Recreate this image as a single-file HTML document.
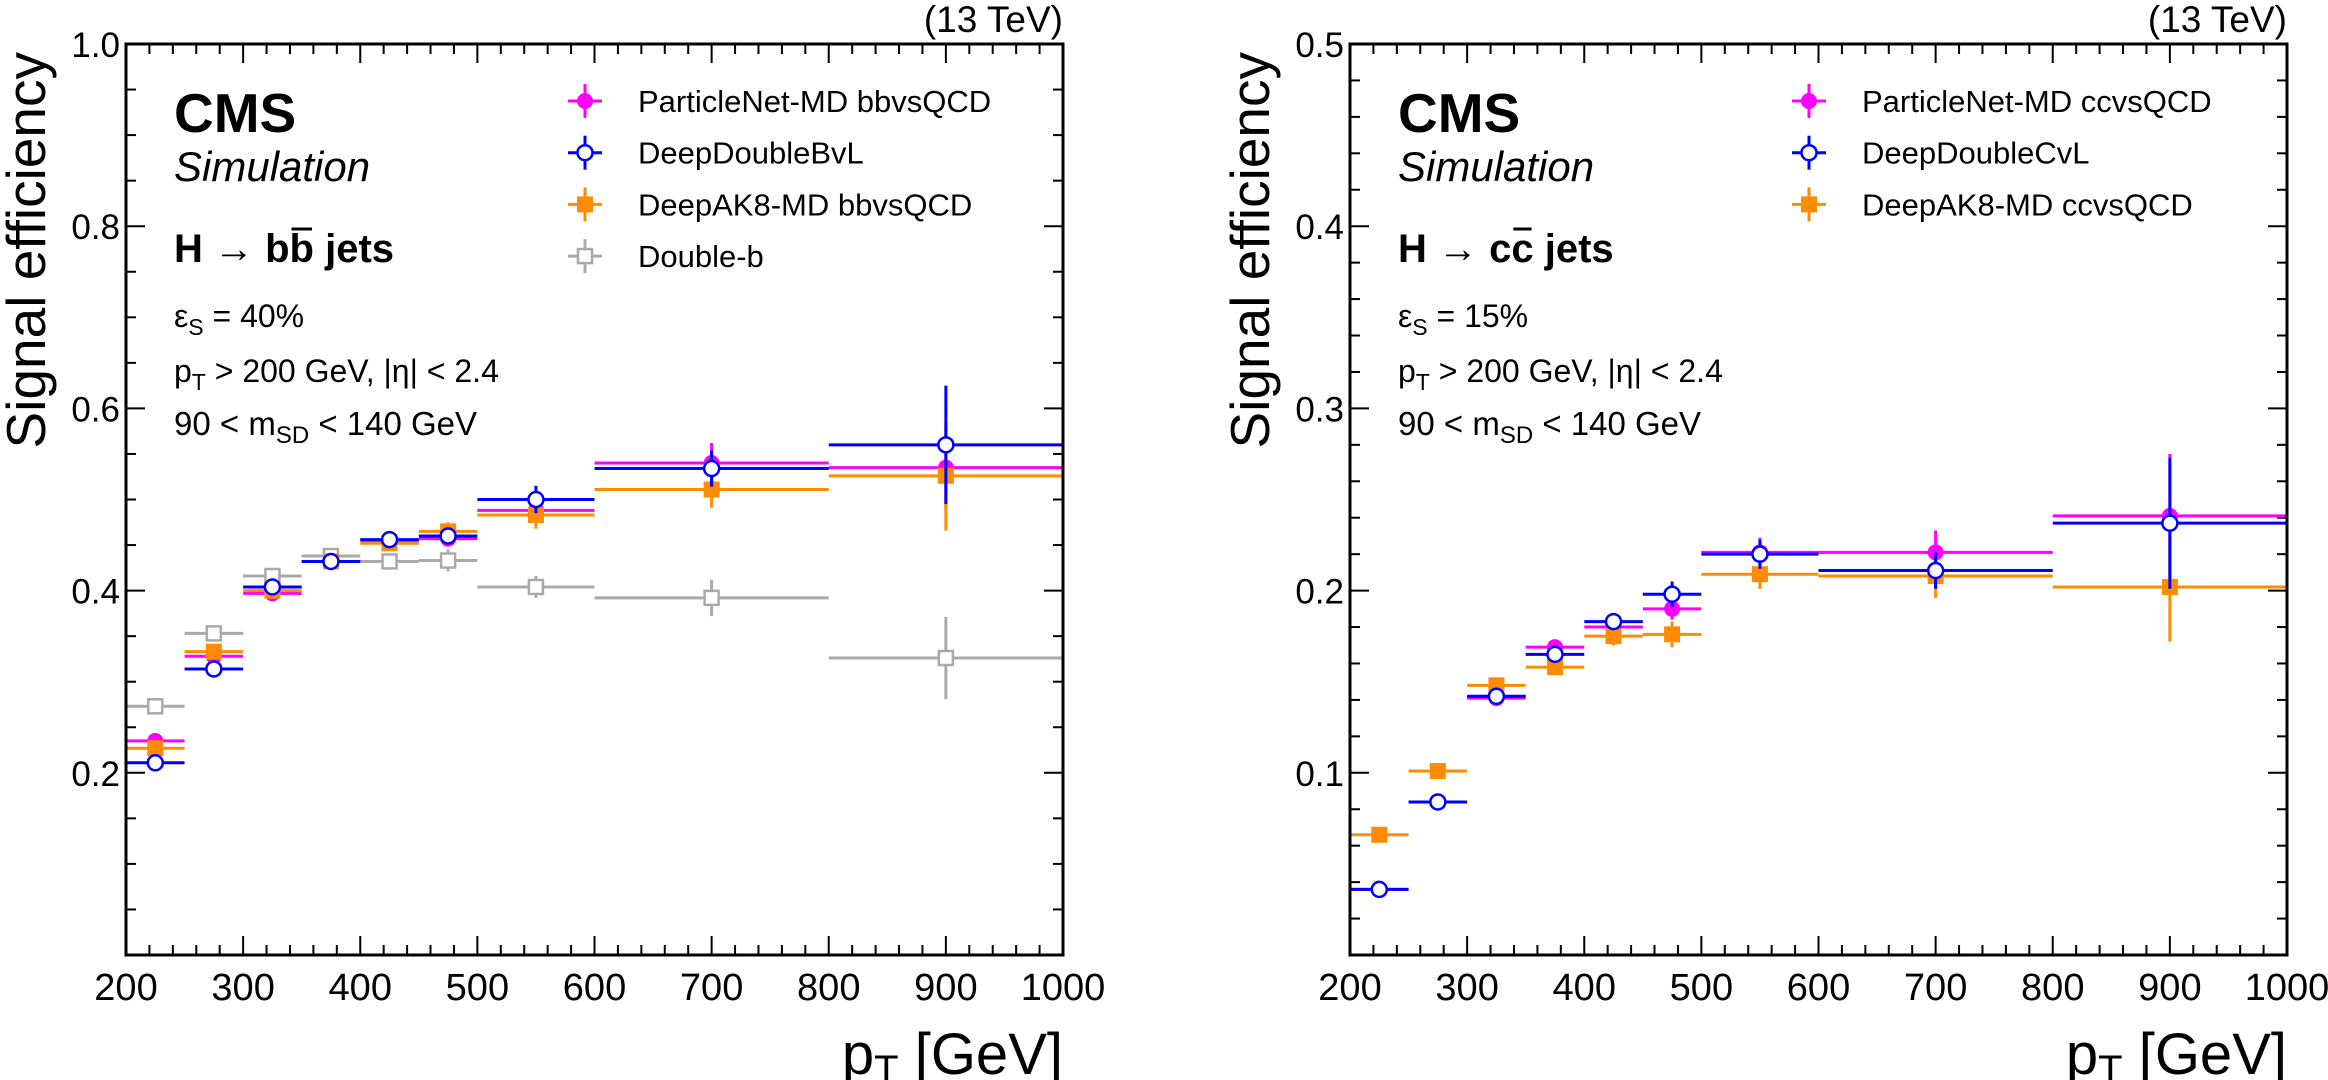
<!DOCTYPE html>
<html><head><meta charset="utf-8"><style>
html,body{margin:0;padding:0;background:#fff;}
svg{display:block;font-family:"Liberation Sans",Arial,sans-serif;}
</style></head><body>
<svg id="fig" width="2328" height="1080" viewBox="0 0 2328 1080" xmlns="http://www.w3.org/2000/svg">
<rect width="2328" height="1080" fill="#fff"/>
<g id="pL"></g>
<g id="pR"></g>
</svg>
<script>
// ---- data ----
const binLo = [200,250,300,350,400,450,500,600,800];
const binHi = [250,300,350,400,450,500,600,800,1000];
const xTicks = [200,300,400,500,600,700,800,900,1000];
const yTicksL = [0.2,0.4,0.6,0.8,1.0];
const yTickLabelsL = ["0.2","0.4","0.6","0.8","1.0"];
const yTicksR = [0.1,0.2,0.3,0.4,0.5];
const yTickLabelsR = ["0.1","0.2","0.3","0.4","0.5"];

const pnBB   = [0.235,0.328,0.397,0.432,0.455,0.457,0.488,0.540,0.535];
const pnBBe  = [0.006,0.006,0.006,0.006,0.007,0.008,0.012,0.022,0.045];
const ddbBB  = [0.211,0.314,0.404,0.432,0.456,0.460,0.500,0.534,0.560];
const ddbBBe = [0.005,0.006,0.006,0.006,0.007,0.008,0.015,0.020,0.065];
const dakBB  = [0.227,0.333,0.400,0.432,0.452,0.465,0.483,0.511,0.526];
const dakBBe = [0.006,0.006,0.006,0.006,0.008,0.010,0.015,0.020,0.060];
const dbBB   = [0.273,0.353,0.416,0.438,0.432,0.433,0.404,0.392,0.326];
const dbBBe  = [0.008,0.007,0.007,0.008,0.009,0.012,0.012,0.020,0.045];

const pnCC   = [0.036,0.084,0.141,0.169,0.180,0.190,0.221,0.221,0.241];
const pnCCe  = [0.002,0.003,0.003,0.003,0.004,0.006,0.008,0.012,0.034];
const ddcCC  = [0.036,0.084,0.142,0.165,0.183,0.198,0.220,0.211,0.237];
const ddcCCe = [0.002,0.003,0.003,0.003,0.004,0.007,0.008,0.010,0.036];
const dakCC  = [0.066,0.101,0.148,0.158,0.175,0.176,0.209,0.208,0.202];
const dakCCe = [0.004,0.003,0.003,0.004,0.005,0.007,0.008,0.012,0.030];

const NS="http://www.w3.org/2000/svg";
function mk(parent,tag,attrs,text){const e=document.createElementNS(NS,tag);for(const k in attrs)e.setAttribute(k,attrs[k]);if(text!==undefined)e.textContent=text;parent.appendChild(e);return e;}

function panel(g,x0,ymax,yt,ytl,minorStep,series,legendTx,tag){
  const x1=x0+937, yTop=44, yBot=955;
  const X=v=>x0+(v-200)/800*(x1-x0);
  const Y=v=>yBot-(v/ymax)*(yBot-yTop);
  const tk=mk(g,'g',{stroke:'#000','stroke-width':2});
  
  
  for(let v=200;v<=1000;v+=20){const maj=(v%100===0);const L=maj?19:10;const xx=X(v);
    mk(tk,'line',{x1:xx,x2:xx,y1:yBot,y2:yBot-L});mk(tk,'line',{x1:xx,x2:xx,y1:yTop,y2:yTop+L});}
  const nMin=Math.round(ymax/minorStep);
  for(let i=1;i<nMin;i++){const v=i*minorStep;const maj=yt.some(t=>Math.abs(t-v)<1e-9);const L=maj?19:10;const yy=Y(v);
    mk(tk,'line',{x1:x0,x2:x0+L,y1:yy,y2:yy});mk(tk,'line',{x1:x1,x2:x1-L,y1:yy,y2:yy});}
  xTicks.forEach(v=>{const t=mk(g,'text',{x:X(v),y:1000,'font-size':38,'text-anchor':'middle'},String(v));
    });
  yt.forEach((v,i)=>{const t=mk(g,'text',{x:x0-6,y:Y(v)+13,'font-size':35,'text-anchor':'end'},ytl[i]);
    });
  const xt=mk(g,'text',{x:x1,y:1074,'font-size':58,'text-anchor':'end'});
  
  xt.innerHTML='p<tspan font-size="40" dy="9">T</tspan><tspan dy="-9"> [GeV]</tspan>';
  const ytt=mk(g,'text',{transform:`translate(${x0-81},52) rotate(-90)`,'font-size':55,'text-anchor':'end'},'Signal efficiency');
  
  const lum=mk(g,'text',{x:x1,y:32,'font-size':37,'text-anchor':'end'},'(13 TeV)');
  
  series.forEach(s=>{
    const sg=mk(g,'g',{});
    
    s.v.forEach((v,i)=>{
      const xc=X((binLo[i]+binHi[i])/2), yc=Y(v);
      mk(sg,'line',{x1:X(binLo[i]),x2:X(binHi[i]),y1:yc,y2:yc,stroke:s.c,'stroke-width':3});
      mk(sg,'line',{x1:xc,x2:xc,y1:Y(v-s.e[i]),y2:Y(v+s.e[i]),stroke:s.c,'stroke-width':3});
      marker(sg,s,xc,yc);
    });
  });
  const fr=mk(g,'rect',{x:x0,y:yTop,width:x1-x0,height:yBot-yTop,fill:'none',stroke:'#000','stroke-width':3});
  
  const tx=x0+48;
  const cms=mk(g,'text',{x:tx,y:132,'font-size':55,'font-weight':'bold'},'CMS');
  
  const sim=mk(g,'text',{x:tx,y:181,'font-size':42,'font-style':'italic'},'Simulation');
  
  const ti=mk(g,'text',{x:tx,y:262,'font-size':40,'font-weight':'bold'});
  
  ti.textContent=`H → ${tag}${tag} jets`;
  const ext=ti.getExtentOfChar(5);
  const ol=mk(g,'line',{x1:ext.x+2,x2:ext.x+ext.width-2,y1:229,y2:229,stroke:'#000','stroke-width':3});
  
  const l1=mk(g,'text',{x:tx,y:327,'font-size':32});
  
  l1.innerHTML=`ε<tspan font-size="23" dy="8">S</tspan><tspan dy="-8"> = ${tag==='b'?'40%':'15%'}</tspan>`;
  const l2=mk(g,'text',{x:tx,y:382,'font-size':32});
  
  l2.innerHTML='p<tspan font-size="23" dy="8">T</tspan><tspan dy="-8"> &gt; 200 GeV, |η| &lt; 2.4</tspan>';
  const l3=mk(g,'text',{x:tx,y:435,'font-size':33});
  
  l3.innerHTML='90 &lt; m<tspan font-size="24" dy="8">SD</tspan><tspan dy="-8"> &lt; 140 GeV</tspan>';
  const lg=mk(g,'g',{});
  
  legendTx.forEach((t,i)=>{
    const s=series.find(q=>q.leg===i);
    const yy=101+i*51.7, mx=x0+459;
    const e=mk(lg,'g',{});
    
    mk(e,'line',{x1:mx-17,x2:mx+17,y1:yy,y2:yy,stroke:s.c,'stroke-width':3});
    mk(e,'line',{x1:mx,x2:mx,y1:yy-17,y2:yy+17,stroke:s.c,'stroke-width':3});
    marker(e,s,mx,yy);
    mk(e,'text',{x:mx+53,y:yy+11,'font-size':31},t);
  });
}
function marker(p,s,x,y){
  if(s.m==='fc')mk(p,'circle',{cx:x,cy:y,r:8,fill:s.c});
  else if(s.m==='oc')mk(p,'circle',{cx:x,cy:y,r:7.5,fill:'#fff',stroke:s.c,'stroke-width':2.5});
  else if(s.m==='fs')mk(p,'rect',{x:x-8,y:y-8,width:16,height:16,fill:s.c});
  else mk(p,'rect',{x:x-7,y:y-7,width:14,height:14,fill:'#fff',stroke:s.c,'stroke-width':2.5});
}
const MAG='#ff00ff',BLU='#0000ff',ORG='#ff8c00',GRY='#aaaaaa';
panel(document.getElementById('pL'),126,1.0,yTicksL,yTickLabelsL,0.05,[
  {name:'double-b',v:dbBB,e:dbBBe,c:GRY,m:'os',leg:3},
  {name:'particlenet-bb',v:pnBB,e:pnBBe,c:MAG,m:'fc',leg:0},
  {name:'deepak8-bb',v:dakBB,e:dakBBe,c:ORG,m:'fs',leg:2},
  {name:'deepdoublebvl',v:ddbBB,e:ddbBBe,c:BLU,m:'oc',leg:1}
],["ParticleNet-MD bbvsQCD","DeepDoubleBvL","DeepAK8-MD bbvsQCD","Double-b"],'b');
panel(document.getElementById('pR'),1350,0.5,yTicksR,yTickLabelsR,0.02,[
  {name:'particlenet-cc',v:pnCC,e:pnCCe,c:MAG,m:'fc',leg:0},
  {name:'deepak8-cc',v:dakCC,e:dakCCe,c:ORG,m:'fs',leg:2},
  {name:'deepdoublecvl',v:ddcCC,e:ddcCCe,c:BLU,m:'oc',leg:1}
],["ParticleNet-MD ccvsQCD","DeepDoubleCvL","DeepAK8-MD ccvsQCD"],'c');
</script>
</body></html>
